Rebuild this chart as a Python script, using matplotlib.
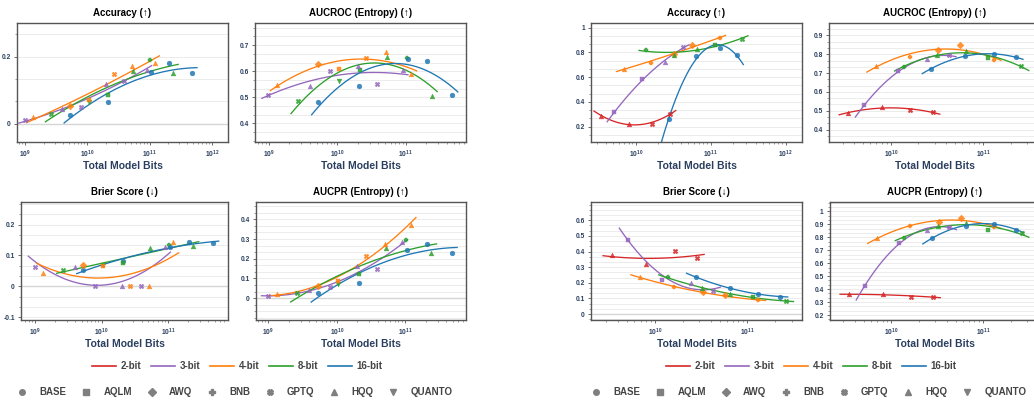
import numpy as np
import matplotlib
matplotlib.use("Agg")
import matplotlib.pyplot as plt
from matplotlib.lines import Line2D
from matplotlib.ticker import (FixedLocator, MultipleLocator, FuncFormatter,
                               LogLocator, LogFormatterMathtext, NullFormatter)

plt.rcParams['font.family'] = ['Liberation Sans', 'DejaVu Sans']

# legend / styling categories
bit_names = ['2-bit', '3-bit', '4-bit', '8-bit', '16-bit']
bit_values = [2, 3, 4, 8, 16]
bit_colors = ['#d62728', '#9467bd', '#ff7f0e', '#2ca02c', '#1f77b4']
method_names = ['BASE', 'AQLM', 'AWQ', 'BNB', 'GPTQ', 'HQQ', 'QUANTO']
method_markers = ['o', 's', 'D', 'P', 'X', '^', 'v']
metric_titles = ['Accuracy (↑)', 'AUCROC (Entropy) (↑)', 'Brier Score (↓)', 'AUCPR (Entropy) (↑)']

# ---- left family (params in billions) ----
left_params = [0.331, 0.331, 0.331, 0.331, 1.32, 1.32, 1.32, 1.32, 2.65, 2.65, 2.65,
               6.66, 6.66, 6.66, 12.9, 12.9, 12.9, 30.0, 30.0, 30.0, 6.66, 12.9, 30.0]
left_bits = [3, 4, 8, 16, 3, 4, 8, 16, 3, 4, 8, 3, 4, 8, 3, 4, 8, 3, 4, 8, 16, 16, 16]
left_method = ['GPTQ', 'HQQ', 'GPTQ', 'BASE', 'HQQ', 'AWQ', 'QUANTO', 'BASE', 'GPTQ', 'AQLM', 'AQLM',
               'HQQ', 'GPTQ', 'HQQ', 'GPTQ', 'HQQ', 'BNB', 'HQQ', 'HQQ', 'HQQ', 'BASE', 'BASE', 'BASE']
left_acc = [0.010, 0.019, 0.029, 0.027, 0.045, 0.054, 0.066, 0.066, 0.050, 0.071, 0.086,
            0.119, 0.149, 0.157, 0.127, 0.172, 0.190, 0.160, 0.180, 0.150, 0.153, 0.182, 0.150]
left_roc = [0.510, 0.547, 0.486, 0.483, 0.542, 0.627, 0.562, 0.545, 0.601, 0.609, 0.603,
            0.620, 0.649, 0.654, 0.551, 0.674, 0.649, 0.604, 0.591, 0.506, 0.647, 0.638, 0.510]
left_brier = [0.061, 0.042, 0.052, 0.052, 0.063, 0.068, 0.069, 0.082, 0.000, 0.066, 0.077,
              0.000, 0.000, 0.123, 0.000, 0.000, 0.134, 0.126, 0.143, 0.131, 0.126, 0.144, 0.139]
left_pr = [0.010, 0.020, 0.025, 0.024, 0.042, 0.062, 0.073, 0.076, 0.057, 0.088, 0.125,
           0.162, 0.216, 0.257, 0.149, 0.273, 0.294, 0.287, 0.373, 0.228, 0.246, 0.273, 0.228]

# ---- right family ----
right_params = [1.72, 4.02, 8.19, 14.2, 1.72, 4.02, 8.19, 14.2, 1.72, 4.02, 8.19, 14.2, 32.8,
                1.72, 4.02, 8.19, 14.2, 32.8, 1.72, 4.02, 8.19, 14.2]
right_bits = [2, 2, 2, 2, 3, 3, 3, 3, 4, 4, 4, 4, 4, 8, 8, 8, 8, 8, 16, 16, 16, 16]
right_method = ['HQQ', 'HQQ', 'GPTQ', 'GPTQ', 'AQLM', 'AQLM', 'HQQ', 'GPTQ', 'HQQ', 'BNB', 'AWQ',
                'AWQ', 'BNB', 'BNB', 'HQQ', 'HQQ', 'AQLM', 'GPTQ', 'BASE', 'BASE', 'BASE', 'BASE']
right_acc = [0.287, 0.224, 0.224, 0.303, 0.314, 0.582, 0.726, 0.840, 0.669, 0.718, 0.790,
             0.859, 0.913, 0.818, 0.778, 0.826, 0.862, 0.908, 0.260, 0.772, 0.832, 0.780]
right_roc = [0.489, 0.518, 0.505, 0.493, 0.528, 0.712, 0.776, 0.795, 0.740, 0.784, 0.820,
             0.850, 0.772, 0.733, 0.797, 0.816, 0.781, 0.737, 0.724, 0.790, 0.802, 0.784]
right_brier = [0.377, 0.321, 0.406, 0.357, 0.477, 0.221, 0.196, 0.147, 0.236, 0.172, 0.140,
               0.119, 0.089, 0.234, 0.164, 0.130, 0.111, 0.081, 0.238, 0.164, 0.130, 0.111]
right_pr = [0.359, 0.362, 0.341, 0.341, 0.428, 0.756, 0.859, 0.879, 0.792, 0.885, 0.918,
            0.949, 0.879, 0.797, 0.887, 0.913, 0.856, 0.831, 0.792, 0.890, 0.903, 0.859]

# axis ranges (log10 of bits for x) and y tick labels per panel
left_xlim = [(8.87, 12.26), (8.80, 11.88), (8.79, 11.90), (8.82, 11.89)]
left_ylim = [(-0.054, 0.30), (0.329, 0.785), (-0.109, 0.273), (-0.111, 0.488)]
left_yticks = [[0, 0.2], [0.4, 0.5, 0.6, 0.7], [-0.1, 0, 0.1, 0.2], [0, 0.1, 0.2, 0.3, 0.4]]
right_xlim = [(9.40, 12.22), (9.33, 11.62), (9.31, 11.59), (9.33, 11.62)]
right_ylim = [(0.075, 1.038), (0.334, 0.966), (-0.038, 0.717), (0.162, 1.072)]
right_yticks = [[0.2, 0.4, 0.6, 0.8, 1], [0.4, 0.5, 0.6, 0.7, 0.8, 0.9],
                [0, 0.1, 0.2, 0.3, 0.4, 0.5, 0.6], [0.2, 0.3, 0.4, 0.5, 0.6, 0.7, 0.8, 0.9, 1]]

W, H = 1034, 400
fig = plt.figure(figsize=(W / 100, H / 100), dpi=100)
fig.patch.set_facecolor('white')

TXT = '#2a3f5f'


def px_axes(x0, y0, x1, y1):
    return fig.add_axes([x0 / W, 1 - y1 / H, (x1 - x0) / W, (y1 - y0) / H])


def panel(ax, params, bits, methods, vals, title, xlim, ylim, yticks):
    bits = np.array(bits)
    vals = np.array(vals)
    xb = np.array(params) * 1e9 * bits
    lx = np.log10(xb)
    # quadratic fit in log space per bit width
    for b, c in zip(bit_values, bit_colors):
        sel = bits == b
        if sel.sum() < 3:
            continue
        coef = np.polyfit(lx[sel], vals[sel], 2)
        g = np.linspace(lx[sel].min() + np.log10(0.8), lx[sel].max() + np.log10(1.2), 120)
        ax.plot(10 ** g, np.polyval(coef, g), color=c, lw=0.95, zorder=2)
    for xi, yi, bi, m in zip(xb, vals, bits, methods):
        c = bit_colors[bit_values.index(bi)]
        mk = method_markers[method_names.index(m)]
        ax.scatter(xi, yi, marker=mk, s=12, color=c, alpha=0.85, linewidths=0.3,
                   edgecolors=c, zorder=3)
    ax.set_xscale('log')
    ax.set_xlim(10 ** xlim[0], 10 ** xlim[1])
    ax.set_ylim(*ylim)
    step = yticks[1] - yticks[0]
    ax.yaxis.set_major_locator(FixedLocator(yticks))
    ax.yaxis.set_minor_locator(MultipleLocator(step / 3))
    ax.yaxis.set_major_formatter(FuncFormatter(lambda v, p: f'{round(v, 3):g}'))
    ax.xaxis.set_major_locator(LogLocator(base=10))
    ax.xaxis.set_minor_locator(LogLocator(base=10, subs=np.arange(2, 10)))
    ax.xaxis.set_major_formatter(LogFormatterMathtext())
    ax.xaxis.set_minor_formatter(NullFormatter())
    ax.grid(True, axis='y', which='both', color='#ececec', lw=0.7, zorder=0)
    ax.axhline(0, color='#d6d6d6', lw=1.0, zorder=1)
    ax.set_axisbelow(True)
    for s in ax.spines.values():
        s.set_color('#555555')
        s.set_linewidth(1.0)
    ax.tick_params(which='major', length=2.5, width=0.6, color='#555555',
                   labelsize=4.8, labelcolor=TXT, pad=2)
    ax.tick_params(which='minor', length=1.5, width=0.5, color='#777777')
    for lab in ax.get_yticklabels() + ax.get_xticklabels():
        lab.set_fontweight('bold')
    ax.set_title(title, fontsize=7, fontweight='bold', color='black', pad=5)
    ax.set_xlabel('Total Model Bits', fontsize=7.5, fontweight='bold', color=TXT, labelpad=1)


groups = [
    (0, left_params, left_bits, left_method, [left_acc, left_roc, left_brier, left_pr],
     left_xlim, left_ylim, left_yticks),
    (574, right_params, right_bits, right_method, [right_acc, right_roc, right_brier, right_pr],
     right_xlim, right_ylim, right_yticks),
]

boxes = [(17, 23, 228, 142), (255, 23, 466, 142), (21, 202, 228, 320), (256, 202, 466, 320)]

for off, prm, bts, mth, metrics, xls, yls, ytk in groups:
    for i in range(4):
        x0, y0, x1, y1 = boxes[i]
        if off and i % 2 == 0:
            x0 = 17
        ax = px_axes(x0 + off, y0, x1 + off, y1)
        panel(ax, prm, bts, mth, metrics[i], metric_titles[i], xls[i], yls[i], ytk[i])

    line_handles = [Line2D([], [], color=c, lw=1.2) for c in bit_colors]
    leg1 = fig.legend(line_handles, bit_names, loc='center', ncol=5,
                      bbox_to_anchor=((237 + off) / W, 1 - 366 / H), frameon=False,
                      prop={'size': 7, 'weight': 'bold'}, handlelength=2.5,
                      handletextpad=0.45, columnspacing=1.0)
    for t in leg1.get_texts():
        t.set_color('#444444')
    mark_handles = [Line2D([], [], ls='none', marker=m, color='#7f7f7f', markersize=4)
                    for m in method_markers]
    leg2 = fig.legend(mark_handles, method_names, loc='center', ncol=7,
                      bbox_to_anchor=((235 + off) / W, 1 - 392 / H), frameon=False,
                      prop={'size': 7, 'weight': 'bold'}, handlelength=1.0,
                      handletextpad=1.25, columnspacing=1.55)
    for t in leg2.get_texts():
        t.set_color('#444444')

fig.savefig('out.png', dpi=100, facecolor='white')
